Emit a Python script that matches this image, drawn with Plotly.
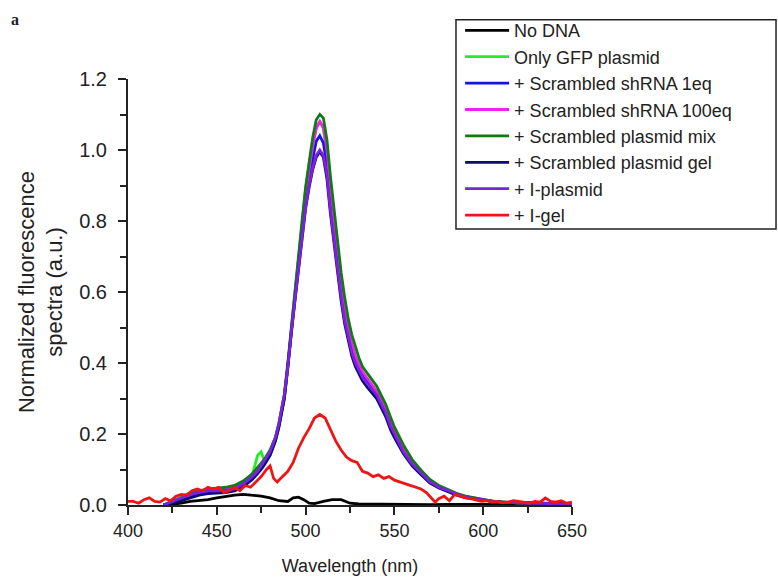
import plotly.graph_objects as go

# ---------------- data ----------------
x_main = [420, 425, 430, 435, 440, 445, 450, 455, 460, 465, 470, 473, 475, 477, 480, 483, 485, 488, 490, 492,
          494, 496, 498, 500, 502, 504, 506, 508, 510, 512, 514, 516, 518, 520, 522, 524, 526, 528, 530, 532,
          535, 538, 540, 542, 545, 548, 550, 555, 560, 565, 570, 575, 580, 585, 590, 595, 600, 605, 610, 615,
          620, 625, 630, 635, 640, 645, 650]

y_gfp = [0.0, 0.012, 0.025, 0.035, 0.04, 0.045, 0.045, 0.048, 0.05, 0.06, 0.085, 0.14, 0.15, 0.12, 0.14, 0.18, 0.22, 0.30, 0.39, 0.50,
         0.60, 0.70, 0.80, 0.89, 0.96, 1.02, 1.065, 1.08, 1.06, 0.99, 0.88, 0.79, 0.70, 0.61, 0.545, 0.49, 0.45, 0.415, 0.39, 0.37,
         0.35, 0.33, 0.32, 0.30, 0.27, 0.23, 0.205, 0.155, 0.12, 0.092, 0.068, 0.052, 0.04, 0.03, 0.024, 0.018, 0.014, 0.01, 0.008, 0.007,
         0.006, 0.006, 0.005, 0.004, 0.004, 0.003, 0.003]

y_sh1 = [0.0, 0.008, 0.015, 0.025, 0.03, 0.035, 0.035, 0.038, 0.042, 0.055, 0.075, 0.09, 0.105, 0.12, 0.145, 0.185, 0.225, 0.30, 0.385, 0.49,
         0.585, 0.68, 0.77, 0.86, 0.925, 0.98, 1.025, 1.04, 1.02, 0.96, 0.855, 0.765, 0.68, 0.60, 0.53, 0.48, 0.44, 0.405, 0.385, 0.365,
         0.345, 0.325, 0.31, 0.29, 0.26, 0.22, 0.20, 0.15, 0.115, 0.09, 0.066, 0.05, 0.04, 0.03, 0.023, 0.018, 0.014, 0.01, 0.008, 0.007,
         0.006, 0.005, 0.005, 0.004, 0.004, 0.003, 0.003]

y_sh100 = [0.0, 0.01, 0.02, 0.03, 0.038, 0.042, 0.044, 0.046, 0.05, 0.062, 0.082, 0.098, 0.112, 0.128, 0.152, 0.19, 0.23, 0.31, 0.395, 0.50,
           0.595, 0.69, 0.785, 0.875, 0.945, 1.01, 1.06, 1.08, 1.065, 1.0, 0.89, 0.795, 0.705, 0.62, 0.55, 0.495, 0.455, 0.42, 0.395, 0.375,
           0.355, 0.335, 0.32, 0.30, 0.27, 0.23, 0.21, 0.16, 0.12, 0.093, 0.068, 0.052, 0.041, 0.031, 0.024, 0.019, 0.015, 0.011, 0.009, 0.007,
           0.006, 0.006, 0.005, 0.004, 0.004, 0.003, 0.003]

y_mix = [0.0, 0.01, 0.022, 0.032, 0.04, 0.045, 0.047, 0.05, 0.055, 0.068, 0.088, 0.105, 0.118, 0.13, 0.155, 0.19, 0.23, 0.31, 0.40, 0.505,
         0.60, 0.70, 0.80, 0.895, 0.97, 1.035, 1.085, 1.10, 1.09, 1.03, 0.925, 0.83, 0.74, 0.655, 0.585, 0.525, 0.48, 0.445, 0.415, 0.39,
         0.37, 0.35, 0.335, 0.315, 0.285, 0.245, 0.22, 0.17, 0.128, 0.098, 0.072, 0.055, 0.043, 0.033, 0.025, 0.02, 0.015, 0.011, 0.009, 0.007,
         0.006, 0.006, 0.005, 0.004, 0.004, 0.003, 0.003]

y_gel = [0.0, 0.005, 0.012, 0.02, 0.028, 0.032, 0.033, 0.035, 0.04, 0.052, 0.072, 0.088, 0.1, 0.115, 0.14, 0.18, 0.22, 0.30, 0.385, 0.485,
         0.575, 0.665, 0.755, 0.835, 0.895, 0.945, 0.98, 0.995, 0.98, 0.92, 0.82, 0.735, 0.655, 0.575, 0.51, 0.46, 0.42, 0.39, 0.37, 0.35,
         0.33, 0.31, 0.30, 0.28, 0.25, 0.21, 0.19, 0.145, 0.11, 0.085, 0.062, 0.048, 0.038, 0.028, 0.021, 0.017, 0.013, 0.01, 0.008, 0.007,
         0.006, 0.005, 0.004, 0.004, 0.003, 0.003, 0.003]

y_iplasmid = [0.0, 0.01, 0.02, 0.03, 0.035, 0.04, 0.04, 0.042, 0.045, 0.06, 0.08, 0.095, 0.11, 0.125, 0.15, 0.19, 0.23, 0.31, 0.39, 0.49,
              0.58, 0.67, 0.76, 0.84, 0.90, 0.95, 0.985, 1.0, 0.985, 0.93, 0.83, 0.745, 0.665, 0.585, 0.52, 0.47, 0.43, 0.40, 0.38, 0.36,
              0.34, 0.32, 0.31, 0.29, 0.26, 0.22, 0.20, 0.15, 0.115, 0.09, 0.065, 0.05, 0.04, 0.03, 0.022, 0.018, 0.014, 0.01, 0.008, 0.007,
              0.006, 0.005, 0.005, 0.004, 0.004, 0.003, 0.003]

x_nodna = [420, 425, 430, 435, 440, 445, 450, 455, 460, 465, 470, 475, 480, 485, 490, 493, 496, 499, 502, 505,
           510, 515, 520, 525, 530, 540, 550, 560, 570, 580, 590, 600, 610, 620, 630, 640, 650]
y_nodna = [0.0, 0.002, 0.005, 0.01, 0.012, 0.015, 0.02, 0.025, 0.028, 0.03, 0.028, 0.025, 0.02, 0.012, 0.01, 0.02, 0.022, 0.015, 0.005, 0.004,
           0.01, 0.015, 0.015, 0.005, 0.003, 0.002, 0.002, 0.001, 0.001, 0.002, 0.003, 0.002, 0.001, 0.002, 0.001, 0.002, 0.001]

x_igel = [400, 403, 406, 409, 412, 415, 418, 421, 424, 427, 430, 433, 436, 439, 442, 445, 448, 451, 454, 457,
          460, 463, 466, 469, 472, 475, 478, 480, 482, 484, 487, 490, 493, 496, 499, 502, 505, 508, 511, 514,
          517, 520, 523, 526, 529, 532, 535, 538, 541, 544, 547, 550, 553, 556, 559, 562, 565, 568, 571, 573,
          575, 578, 581, 584, 587, 590, 593, 596, 599, 602, 605, 608, 611, 614, 617, 620, 623, 626, 629, 632,
          635, 638, 641, 644, 647, 650]
y_igel = [0.01, 0.01, 0.005, 0.015, 0.02, 0.01, 0.008, 0.018, 0.012, 0.025, 0.03, 0.028, 0.04, 0.045, 0.04, 0.05, 0.045, 0.05, 0.035, 0.04,
          0.05, 0.04, 0.055, 0.05, 0.065, 0.08, 0.1, 0.11, 0.075, 0.065, 0.08, 0.095, 0.12, 0.16, 0.19, 0.215, 0.245, 0.255, 0.245, 0.21,
          0.18, 0.155, 0.135, 0.125, 0.12, 0.095, 0.09, 0.08, 0.085, 0.075, 0.08, 0.07, 0.065, 0.06, 0.055, 0.05, 0.045, 0.035, 0.02, 0.008,
          0.018, 0.025, 0.012, 0.03, 0.025, 0.02, 0.018, 0.015, 0.01, 0.012, 0.008, 0.01, 0.006, 0.008, 0.012, 0.01, 0.008, 0.005, 0.01, 0.008,
          0.02, 0.01, 0.008, 0.012, 0.005, 0.008]

series_names = ["No DNA", "Only GFP plasmid", "+ Scrambled shRNA 1eq", "+ Scrambled shRNA 100eq",
                "+ Scrambled plasmid mix", "+ Scrambled plasmid gel", "+ I-plasmid", "+ I-gel"]
series_colors = ["#000000", "#22ee22", "#1515e0", "#ee22ee", "#127a12", "#0a0a7a", "#7a22dd", "#ee1515"]

series_x = [x_nodna, x_main, x_main, x_main, x_main, x_main, x_main, x_igel]
series_y = [y_nodna, y_gfp, y_sh1, y_sh100, y_mix, y_gel, y_iplasmid, y_igel]

# ---------------- figure ----------------
FONT = "Liberation Sans, Arial, Helvetica, sans-serif"
INK = "#222222"
fig = go.Figure()
for name, col, xs, ys in zip(series_names, series_colors, series_x, series_y):
    fig.add_trace(go.Scatter(x=xs, y=ys, mode="lines", name=name,
                             line=dict(color=col, width=2.8)))

fig.update_layout(
    width=778, height=586,
    margin=dict(l=128, r=206, t=73, b=81),
    paper_bgcolor="white", plot_bgcolor="white",
    font=dict(family=FONT, size=18, color=INK),
    showlegend=True,
    legend=dict(x=0.748, y=1.157, xanchor="left", yanchor="top",
                bgcolor="rgba(0,0,0,0)", borderwidth=0,
                font=dict(size=18, color=INK),
                tracegroupgap=0, itemwidth=44),
)
# legend frame
fig.add_shape(type="rect", xref="paper", yref="paper",
              x0=0.7387, x1=1.4595, y0=0.648, y1=1.1389,
              line=dict(color=INK, width=1.5), fillcolor="rgba(0,0,0,0)", layer="below")

fig.update_xaxes(range=[400, 650], tickvals=[400, 450, 500, 550, 600, 650],
                 showline=True, linecolor=INK, linewidth=2,
                 ticks="outside", ticklen=8, tickwidth=2, tickcolor=INK,
                 minor=dict(dtick=25, ticks="outside", ticklen=6, tickwidth=2, tickcolor=INK),
                 showgrid=False, zeroline=False,
                 title=dict(text="Wavelength (nm)", standoff=20, font=dict(size=18)),
                 tickfont=dict(size=18))
fig.update_yaxes(range=[0, 1.2], tickvals=[0, 0.2, 0.4, 0.6, 0.8, 1.0, 1.2], tickformat=".1f",
                 showline=True, linecolor=INK, linewidth=2,
                 ticks="outside", ticklen=8, tickwidth=2, tickcolor=INK,
                 minor=dict(dtick=0.1, ticks="outside", ticklen=6, tickwidth=2, tickcolor=INK),
                 showgrid=False, zeroline=False, ticklabelstandoff=7,
                 title=dict(text="Normalized fluorescence<br>spectra (a.u.)", standoff=10, font=dict(size=22)),
                 tickfont=dict(size=20))
fig.add_annotation(text="<b>a</b>", xref="paper", yref="paper", x=-0.268, y=1.165,
                   xanchor="left", yanchor="top", showarrow=False,
                   font=dict(size=16, color=INK, family="Liberation Serif, serif"))

fig.write_html("out.html")
